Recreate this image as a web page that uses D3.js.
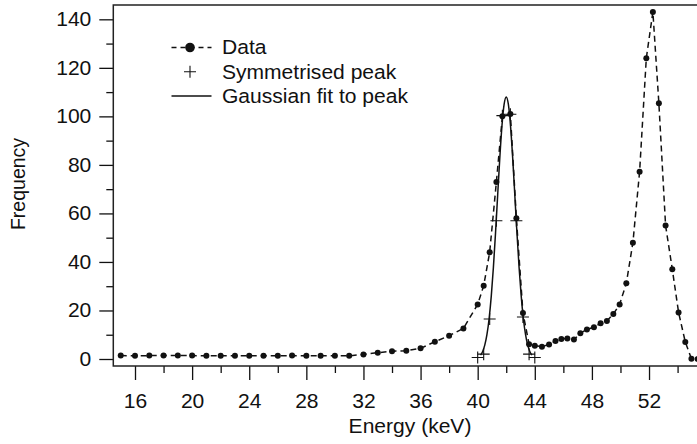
<!DOCTYPE html>
<html>
<head>
<meta charset="utf-8">
<script src="https://cdn.jsdelivr.net/npm/d3@7"></script>
<style>
  html, body { margin: 0; padding: 0; background: #fff; }
  svg { display: block; }
  text { font-family: "Liberation Sans", Arial, Helvetica, sans-serif; fill: #111; }
</style>
</head>
<body>
<svg id="chart" width="697" height="444"></svg>
<script>
// Measured spectrum: energy (keV) and counts
const energy = [15, 16, 17, 18, 19, 20, 21, 22, 23, 24, 25, 26, 27, 28, 29, 30, 31, 32, 33, 34, 35, 36, 37, 38, 39,
  40.0, 40.42, 40.84, 41.31, 41.73, 42.29, 42.71, 43.17, 43.6, 44.0, 44.5, 45.0, 45.45, 45.86, 46.28, 46.74,
  47.19, 47.65, 48.14, 48.61, 49.05, 49.5, 49.94, 50.41, 50.87, 51.34, 51.81, 52.27, 52.69, 53.16, 53.63,
  54.07, 54.54, 54.97, 55.4];
const frequency = [1.4, 1.3, 1.4, 1.4, 1.4, 1.4, 1.3, 1.3, 1.3, 1.3, 1.3, 1.3, 1.4, 1.3, 1.3, 1.3, 1.3, 1.9, 2.6, 3.2, 3.4, 4.4, 7.1, 9.6, 12.6,
  22.5, 30.2, 44, 73, 100, 101, 58, 19, 6.1, 5.5, 5.1, 6.0, 7.4, 8.2, 8.5, 8.0,
  10.6, 12.2, 13.1, 14.7, 15.7, 18.5, 22.5, 31.2, 47.9, 77.2, 124, 143, 105.4, 55, 37,
  19.2, 7.0, 0.1, 0];

// Peak after symmetrisation about its centre
const symEnergy = [40.0, 40.42, 40.84, 41.31, 41.73, 42.29, 42.71, 43.17, 43.6, 44.0];
const symFrequency = [0.6, 2.0, 16.5, 57, 100.3, 100.9, 57, 17.3, 2.0, 0.6];

// Gaussian fitted to the symmetrised peak, sampled along the curve
const fitEnergy = [40.2, 40.35, 40.5, 40.65, 40.8, 40.95, 41.1, 41.25, 41.4, 41.55, 41.7, 41.85, 42.0,
  42.15, 42.3, 42.45, 42.6, 42.75, 42.9, 43.05, 43.2, 43.35, 43.5, 43.65, 43.8];
const fitFrequency = [1.6, 3.1, 5.8, 10.1, 16.6, 25.8, 37.7, 52, 67.6, 83, 96.1, 104.9, 108,
  104.9, 96.1, 83, 67.6, 52, 37.7, 25.8, 16.6, 10.1, 5.8, 3.1, 1.6];

const xMajorTicks = [16, 20, 24, 28, 32, 36, 40, 44, 48, 52];
const xMinorTicks = [18, 22, 26, 30, 34, 38, 42, 46, 50, 54];
const yMajorTicks = [0, 20, 40, 60, 80, 100, 120, 140];
const yMinorTicks = [10, 30, 50, 70, 90, 110, 130];

const legendLabels = ["Data", "Symmetrised peak", "Gaussian fit to peak"];
const xTitle = "Energy (keV)";
const yTitle = "Frequency";

// ---- layout ----
const frame = { left: 113.3, right: 699, top: 5, bottom: 366 };
const ink = "#111";
const fontSize = 19.5;
const widen = 1.08;   // slightly wide lettering

const svg = d3.select("#chart");

const x = d3.scaleLinear().domain([14.48, 55.5]).range([frame.left, frame.right]);
const y = d3.scaleLinear().domain([-2.885, 145.9]).range([frame.bottom, frame.top]);

// clip marks to the plotting frame
svg.append("defs").append("clipPath").attr("id", "plotClip")
  .append("rect")
  .attr("x", frame.left).attr("y", frame.top)
  .attr("width", frame.right - frame.left).attr("height", frame.bottom - frame.top);

// ---- axes ----
function styleAxis(g) {
  g.select(".domain").remove();
  g.selectAll(".tick line").attr("stroke", ink).attr("stroke-width", 1.3);
  g.attr("font-size", fontSize).attr("font-family", null);
  g.selectAll(".tick text").attr("fill", ink);
}

svg.append("g")
  .attr("transform", `translate(0,${frame.bottom})`)
  .call(d3.axisBottom(x).tickValues(xMajorTicks).tickSize(14).tickPadding(14).tickFormat(d3.format("d")))
  .call(styleAxis)
  .call(g => g.selectAll(".tick text").attr("transform", `scale(${widen},1)`));

svg.append("g")
  .attr("transform", `translate(0,${frame.bottom})`)
  .call(d3.axisBottom(x).tickValues(xMinorTicks).tickSize(7).tickFormat(""))
  .call(styleAxis);

svg.append("g")
  .attr("transform", `translate(${frame.left},0)`)
  .call(d3.axisLeft(y).tickValues(yMajorTicks).tickSize(14).tickPadding(8).tickFormat(d3.format("d")))
  .call(styleAxis)
  .call(g => g.selectAll(".tick text")
    .attr("x", -22 / widen)
    .attr("transform", `scale(${widen},1)`));

svg.append("g")
  .attr("transform", `translate(${frame.left},0)`)
  .call(d3.axisLeft(y).tickValues(yMinorTicks).tickSize(7).tickFormat(""))
  .call(styleAxis);

// axis titles
svg.append("text")
  .attr("transform", `translate(410,433) scale(${widen},1)`)
  .attr("text-anchor", "middle")
  .attr("font-size", fontSize)
  .text(xTitle);

svg.append("text")
  .attr("transform", `translate(25,184) rotate(-90) scale(1,${widen})`)
  .attr("text-anchor", "middle")
  .attr("font-size", fontSize)
  .text(yTitle);

// ---- marks ----
const plot = svg.append("g").attr("clip-path", "url(#plotClip)");

const dataPts = energy.map((e, i) => [e, frequency[i]]);
const symPts = symEnergy.map((e, i) => [e, symFrequency[i]]);
const fitPts = fitEnergy.map((e, i) => [e, fitFrequency[i]]);

const line = d3.line().x(d => x(d[0])).y(d => y(d[1]));

plot.append("path")
  .datum(dataPts)
  .attr("d", line)
  .attr("fill", "none")
  .attr("stroke", ink)
  .attr("stroke-width", 1.5)
  .attr("stroke-dasharray", "6,4");

plot.append("path")
  .datum(fitPts)
  .attr("d", line.curve(d3.curveMonotoneX))
  .attr("fill", "none")
  .attr("stroke", ink)
  .attr("stroke-width", 1.5);

plot.selectAll("circle.data")
  .data(dataPts)
  .join("circle")
  .attr("class", "data")
  .attr("cx", d => x(d[0]))
  .attr("cy", d => y(d[1]))
  .attr("r", 3)
  .attr("fill", ink);

const plusPath = "M-6,0H6M0,-6V6";
plot.selectAll("path.sym")
  .data(symPts)
  .join("path")
  .attr("class", "sym")
  .attr("transform", d => `translate(${x(d[0])},${y(d[1])})`)
  .attr("d", plusPath)
  .attr("stroke", ink)
  .attr("stroke-width", 1.1)
  .attr("fill", "none");

// ---- frame ----
svg.append("rect")
  .attr("x", frame.left).attr("y", frame.top)
  .attr("width", frame.right - frame.left).attr("height", frame.bottom - frame.top)
  .attr("fill", "none")
  .attr("stroke", "#222")
  .attr("stroke-width", 1.5);

// ---- legend ----
const legend = svg.append("g");
const legendRows = [47.5, 71.8, 96];
const symX0 = 171.5, symX1 = 211.5, symXc = 190, textX = 222;

legendLabels.forEach((label, i) => {
  const ly = legendRows[i];
  if (i === 0) {
    legend.append("line")
      .attr("x1", symX0).attr("x2", symX1).attr("y1", ly).attr("y2", ly)
      .attr("stroke", ink).attr("stroke-width", 1.5).attr("stroke-dasharray", "5,4");
    legend.append("circle").attr("cx", symXc).attr("cy", ly).attr("r", 4.8).attr("fill", ink);
  } else if (i === 1) {
    legend.append("path")
      .attr("transform", `translate(${symXc},${ly})`)
      .attr("d", plusPath)
      .attr("stroke", ink).attr("stroke-width", 1.1).attr("fill", "none");
  } else {
    legend.append("line")
      .attr("x1", symX0).attr("x2", symX1).attr("y1", ly).attr("y2", ly)
      .attr("stroke", ink).attr("stroke-width", 1.5);
  }
  legend.append("text")
    .attr("transform", `translate(${textX},${ly}) scale(${widen},1)`)
    .attr("dy", "0.35em")
    .attr("font-size", fontSize)
    .text(label);
});
</script>
</body>
</html>
